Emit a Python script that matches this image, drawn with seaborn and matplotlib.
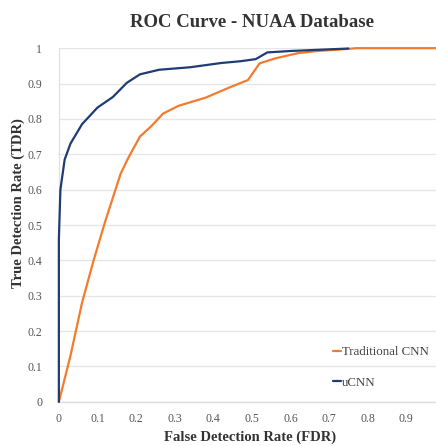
import numpy as np
import pandas as pd
import matplotlib
matplotlib.use("Agg")
import matplotlib.pyplot as plt
import seaborn as sns

# ---- data ----
trad_fdr = [0, 0.03, 0.06, 0.09, 0.12, 0.16, 0.18, 0.21, 0.24, 0.27, 0.31,
            0.38, 0.44, 0.49, 0.52, 0.56, 0.62, 0.67, 0.75, 0.77, 0.98]
trad_tdr = [0, 0.13, 0.28, 0.40, 0.51, 0.645, 0.69, 0.75, 0.78, 0.815, 0.837,
            0.86, 0.888, 0.91, 0.957, 0.971, 0.986, 0.992, 0.998, 1.0, 1.0]

ucnn_fdr = [0, 0, 0.004, 0.015, 0.03, 0.06, 0.1, 0.14, 0.176, 0.21, 0.26,
            0.34, 0.42, 0.47, 0.51, 0.54, 0.6, 0.75]
ucnn_tdr = [0, 0.46, 0.6, 0.685, 0.73, 0.785, 0.832, 0.862, 0.902, 0.926, 0.939,
            0.946, 0.958, 0.963, 0.969, 0.988, 0.992, 0.999]

x_ticks = [0, 0.1, 0.2, 0.3, 0.4, 0.5, 0.6, 0.7, 0.8, 0.9]
y_ticks = [0, 0.1, 0.2, 0.3, 0.4, 0.5, 0.6, 0.7, 0.8, 0.9, 1]

orange = "#F47B2E"
navy = "#1F3C74"

# ---- style ----
sns.set_style("white")
plt.rcParams['font.family'] = ['Liberation Serif', 'DejaVu Serif']

fig = plt.figure(figsize=(4.36, 4.46), dpi=100)
ax = fig.add_axes([0.135, 0.099, 0.865, 0.793])

df_trad = pd.DataFrame({'fdr': trad_fdr, 'tdr': trad_tdr})
df_ucnn = pd.DataFrame({'fdr': ucnn_fdr, 'tdr': ucnn_tdr})

sns.lineplot(data=df_trad, x='fdr', y='tdr', ax=ax, color=orange, linewidth=1.6,
             sort=False, estimator=None, label='Traditional CNN')
sns.lineplot(data=df_ucnn, x='fdr', y='tdr', ax=ax, color=navy, linewidth=1.6,
             sort=False, estimator=None, label='uCNN')
for ln in ax.get_lines():
    ln.set_clip_on(False)
    ln.set_zorder(3)

ax.set_xlim(0, 0.977)
ax.set_ylim(0, 1.0)
ax.set_xticks(x_ticks)
ax.set_yticks(y_ticks)
ax.set_xticklabels([f"{t:g}" for t in x_ticks], fontsize=8.5, color="#555555")
ax.set_yticklabels([f"{t:g}" for t in y_ticks], fontsize=8.5, color="#555555")
ax.tick_params(axis='both', length=0)
ax.tick_params(axis='x', pad=8)
ax.tick_params(axis='y', pad=12)

# horizontal gridlines only
ax.yaxis.grid(True, color="#e6e6e6", linewidth=0.9)
ax.xaxis.grid(False)
ax.set_axisbelow(True)
for s in ['top', 'right']:
    ax.spines[s].set_visible(False)
ax.spines['left'].set_color("#e0e0e0")
ax.spines['bottom'].set_color("#dcdcdc")
ax.spines['left'].set_linewidth(0.9)
ax.spines['bottom'].set_linewidth(0.9)

ax.set_xlabel("False Detection Rate (FDR)", fontsize=10.5, fontweight='bold', color="#333333")
ax.set_ylabel("True Detection Rate (TDR)", fontsize=10.5, fontweight='bold', color="#333333")
ax.xaxis.set_label_coords(0.507, -0.08)
ax.yaxis.set_label_coords(-0.09, 0.562)

fig.suptitle("ROC Curve - NUAA Database", x=0.578, y=0.968, fontsize=13.5,
             fontweight='bold', color="#333333")

leg = ax.legend(loc='center left', bbox_to_anchor=(0.71, 0.097), frameon=False,
                fontsize=9.3, handlelength=0.6, handletextpad=0.1,
                labelspacing=1.45, borderpad=0)
for t in leg.get_texts():
    t.set_color("#444444")

fig.savefig("out.png", dpi=100)
